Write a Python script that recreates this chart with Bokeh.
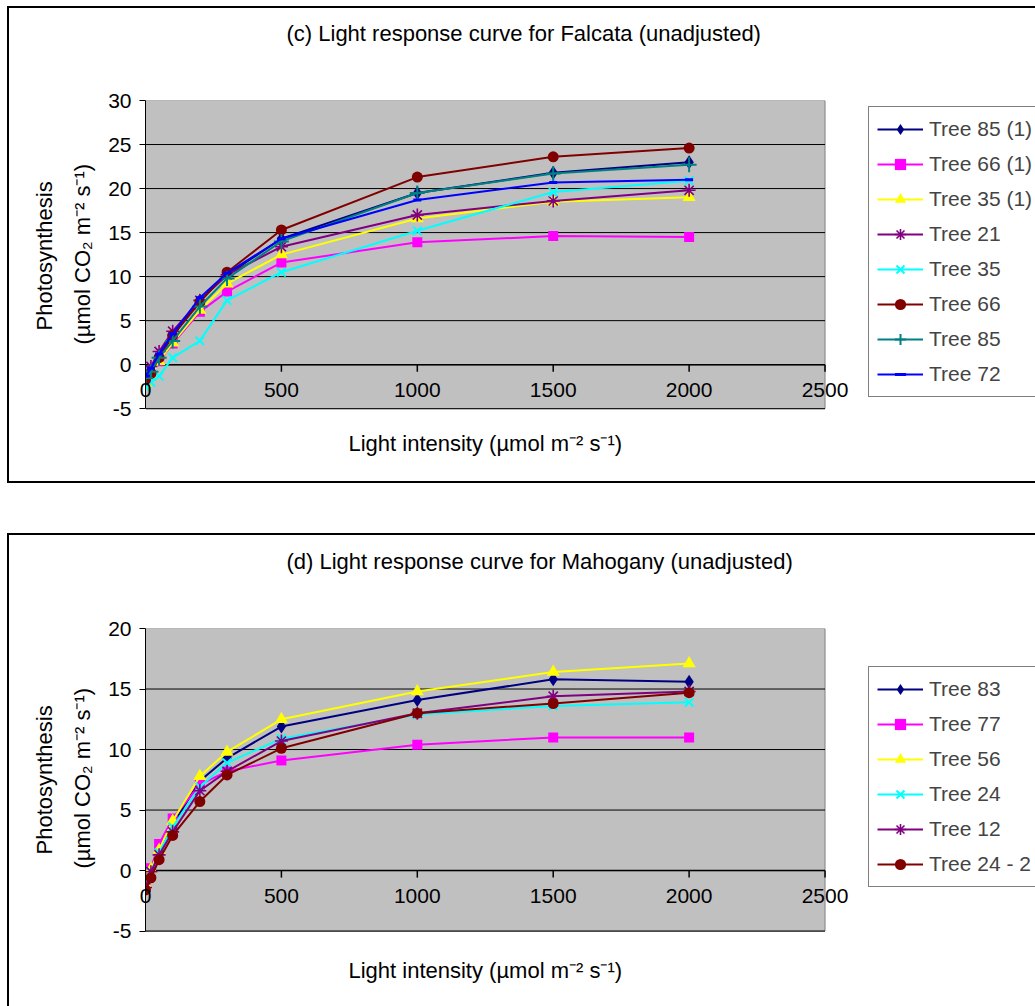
from bokeh.plotting import figure
from bokeh.models import (Range1d, FixedTicker, Legend, LegendItem, Title, Label, Spacer)
from bokeh.layouts import column, row
from bokeh.embed import file_html
from bokeh.resources import INLINE

# ---------------- data ----------------
light = [0, 20, 50, 100, 200, 300, 500, 1000, 1500, 2000]
x_ticks = [0, 500, 1000, 1500, 2000, 2500]

falcata_names = ["Tree 85 (1)", "Tree 66 (1)", "Tree 35 (1)", "Tree 21",
                 "Tree 35", "Tree 66", "Tree 85", "Tree 72"]
f_tree85_1 = [-1.5, -0.8, 0.8, 3.3, 7.3, 10.2, 14.3, 19.5, 21.8, 23.0]
f_tree66_1 = [-1.7, -1.2, 0.4, 2.4, 6.0, 8.3, 11.6, 13.9, 14.6, 14.5]
f_tree35_1 = [-2.1, -1.3, 0.4, 2.5, 6.2, 9.2, 12.5, 16.6, 18.5, 19.0]
f_tree21 = [-1.2, -0.2, 1.5, 3.8, 7.3, 10.2, 13.4, 17.0, 18.6, 19.8]
f_tree35 = [-2.5, -2.0, -1.3, 0.8, 2.7, 7.3, 10.5, 15.2, 19.6, 20.9]
f_tree66 = [-1.7, -1.0, 0.8, 3.3, 7.1, 10.5, 15.3, 21.3, 23.6, 24.6]
f_tree85 = [-1.5, -0.8, 0.8, 2.7, 6.6, 9.8, 14.0, 19.5, 21.7, 22.7]
f_tree72 = [-1.3, -0.4, 1.2, 3.5, 7.6, 10.4, 14.3, 18.7, 20.7, 21.0]
falcata_yticks = [-5, 0, 5, 10, 15, 20, 25, 30]

mahogany_names = ["Tree 83", "Tree 77", "Tree 56", "Tree 24", "Tree 12", "Tree 24 - 2"]
m_tree83 = [-1.1, 0.0, 1.7, 3.8, 7.4, 9.3, 11.9, 14.1, 15.8, 15.6]
m_tree77 = [-1.0, 0.2, 2.2, 4.3, 7.1, 8.2, 9.1, 10.4, 11.0, 11.0]
m_tree56 = [-1.1, 0.1, 1.7, 4.1, 7.8, 9.8, 12.5, 14.8, 16.4, 17.1]
m_tree24 = [-1.2, -0.1, 1.5, 3.6, 6.9, 8.9, 10.9, 12.9, 13.6, 13.9]
m_tree12 = [-1.4, -0.1, 1.3, 3.2, 6.6, 8.2, 10.7, 13.0, 14.4, 14.8]
m_tree24_2 = [-1.6, -0.6, 0.9, 2.9, 5.7, 7.9, 10.1, 13.0, 13.8, 14.7]
mahogany_yticks = [-5, 0, 5, 10, 15, 20]

# ---------------- styles ----------------
STY = {
    "navy_diamond": dict(color="#000080", marker="diamond", size=14, lw=0),
    "mag_square": dict(color="#FF00FF", marker="square", size=10, lw=0),
    "yel_tri": dict(color="#FFFF00", marker="triangle", size=13, lw=0),
    "pur_ast": dict(color="#800080", marker="asterisk", size=13, lw=1.6),
    "cyan_x": dict(color="#00FFFF", marker="x", size=12, lw=2),
    "red_circle": dict(color="#800000", marker="circle", size=11, lw=0),
    "teal_cross": dict(color="#008080", marker="cross", size=15, lw=2),
    "blue_dash": dict(color="#0000FF", marker="dash", size=8, lw=3),
}
FONT = "Liberation Sans"

# geometry (pixels)
WIDTH = 1028          # host width incl. 2px left border
LEFT = 136            # canvas left edge -> plot area
PLOT_W = 678          # width of the grey plot area
FRAME_W = WIDTH - 2 - LEFT


def make_chart(title, names, series, styles, yticks, height, top, plot_h, borders,
               xlab_standoff, xtitle_y, legend_y, ylab_offsets):
    ymin, ymax = yticks[0], yticks[-1]
    canvas_h = height - 2 * borders
    frame_h = canvas_h - top
    x_end = x_ticks[-1] * FRAME_W / PLOT_W
    y_start = ymax - (ymax - ymin) * frame_h / plot_h
    p = figure(width=WIDTH, height=height, x_range=Range1d(0, x_end),
               y_range=Range1d(y_start, ymax),
               output_backend="svg", toolbar_location=None,
               min_border_left=LEFT, min_border_right=0, min_border_top=top,
               min_border_bottom=0, background_fill_color="white",
               border_fill_color="white", outline_line_color=None)

    # grey plot area
    p.quad(left=[x_ticks[0]], right=[x_ticks[-1]], bottom=[ymin], top=[ymax],
           fill_color="#C0C0C0", line_color="#808080", line_width=1)
    # horizontal gridlines
    gy = yticks[:-1]
    p.segment(x0=[x_ticks[0]] * len(gy), y0=gy, x1=[x_ticks[-1]] * len(gy), y1=gy,
              line_color="black", line_width=1)
    p.xgrid.visible = False
    p.ygrid.visible = False

    # ---- y axis ----
    yax = p.yaxis[0]
    yax.bounds = (ymin, ymax)
    yax.ticker = FixedTicker(ticks=yticks)
    yax.major_label_overrides = {-5: "-5"}
    yax.major_tick_out = 6
    yax.major_tick_in = 0
    yax.minor_tick_out = 0
    yax.minor_tick_in = 0
    yax.axis_line_color = "black"
    yax.major_tick_line_color = "black"
    yax.major_label_text_font = FONT
    yax.major_label_text_font_size = "21px"
    yax.major_label_text_color = "black"
    yax.major_label_standoff = 8
    p.add_layout(Title(text="(µmol CO₂ m⁻² s⁻¹)", align="left", offset=ylab_offsets[1],
                       text_font=FONT, text_font_size="22px", text_font_style="normal",
                       text_color="black", standoff=22), "left")
    p.add_layout(Title(text="Photosynthesis", align="left", offset=ylab_offsets[0],
                       text_font=FONT, text_font_size="22px", text_font_style="normal",
                       text_color="black", standoff=0), "left")

    # ---- x axis: tick labels lifted to sit just under the zero line ----
    xax = p.xaxis[0]
    xax.ticker = FixedTicker(ticks=x_ticks)
    xax.axis_line_color = None
    xax.major_tick_out = 0
    xax.major_tick_in = 0
    xax.minor_tick_out = 0
    xax.minor_tick_in = 0
    xax.major_label_standoff = xlab_standoff
    xax.major_label_text_font = FONT
    xax.major_label_text_font_size = "21px"
    xax.major_label_text_color = "black"

    # zero line acting as the x axis, with its tick marks
    p.segment(x0=[x_ticks[0]], y0=[0], x1=[x_ticks[-1]], y1=[0], line_color="black",
              line_width=1.5)
    tick_len = 7 * (ymax - ymin) / plot_h
    p.segment(x0=x_ticks, y0=[0] * len(x_ticks), x1=x_ticks, y1=[-tick_len] * len(x_ticks),
              line_color="black", line_width=1.5)

    p.add_layout(Label(x=(x_ticks[0] + x_ticks[-1]) / 2, y=xtitle_y, y_units="screen",
                       text="Light intensity (µmol m⁻² s⁻¹)", text_align="center",
                       text_baseline="middle", text_font=FONT, text_font_size="22px",
                       text_color="black"))

    items = []
    for name, ys, key in zip(names, series, styles):
        s = STY[key]
        lr = p.line(light, ys, line_color=s["color"], line_width=2)
        if s["lw"] > 0:
            sr = p.scatter(light, ys, marker=s["marker"], size=s["size"], line_color=s["color"],
                           line_width=s["lw"], fill_color=s["color"])
        else:
            sr = p.scatter(light, ys, marker=s["marker"], size=s["size"], line_color=None,
                           fill_color=s["color"])
        items.append(LegendItem(label=name, renderers=[lr, sr]))

    leg = Legend(items=items, location=(PLOT_W + 45, legend_y), label_text_font=FONT,
                 label_text_font_size="21px", glyph_width=46, glyph_height=28,
                 label_height=28, label_width=125, spacing=7, padding=8, margin=0,
                 label_standoff=6, border_line_color="black", border_line_width=1,
                 background_fill_color="white", background_fill_alpha=1.0)
    p.add_layout(leg)

    # chart title, lifted away from the plot area by a blank spacer title
    p.add_layout(Title(text=" ", text_font_size="22px", standoff=28), "above")
    p.add_layout(Title(text=title, align="left", offset=141, text_font=FONT,
                       text_font_size="22px", text_font_style="normal", text_color="black",
                       standoff=0), "above")
    return p


p1 = make_chart("(c) Light response curve for Falcata (unadjusted)", falcata_names,
                [f_tree85_1, f_tree66_1, f_tree35_1, f_tree21, f_tree35, f_tree66, f_tree85, f_tree72],
                ["navy_diamond", "mag_square", "yel_tri", "pur_ast", "cyan_x", "red_circle",
                 "teal_cross", "blue_dash"],
                falcata_yticks, height=477, top=92, plot_h=305, borders=2,
                xlab_standoff=-103, xtitle_y=42, legend_y=88, ylab_offsets=(155, 141))
p1.styles = {"border-top": "2px solid black", "border-left": "2px solid black",
             "border-bottom": "2px solid black"}

p2 = make_chart("(d) Light response curve for Mahogany (unadjusted)", mahogany_names,
                [m_tree83, m_tree77, m_tree56, m_tree24, m_tree12, m_tree24_2],
                ["navy_diamond", "mag_square", "yel_tri", "cyan_x", "pur_ast", "red_circle"],
                mahogany_yticks, height=473, top=93, plot_h=301, borders=1,
                xlab_standoff=-120, xtitle_y=38, legend_y=121, ylab_offsets=(154, 140))
p2.styles = {"border-top": "2px solid black", "border-left": "2px solid black"}

layout = column(Spacer(height=6), row(Spacer(width=7), p1), Spacer(height=50),
                row(Spacer(width=7), p2), spacing=0)
open("out.html", "w").write(file_html(layout, INLINE))
